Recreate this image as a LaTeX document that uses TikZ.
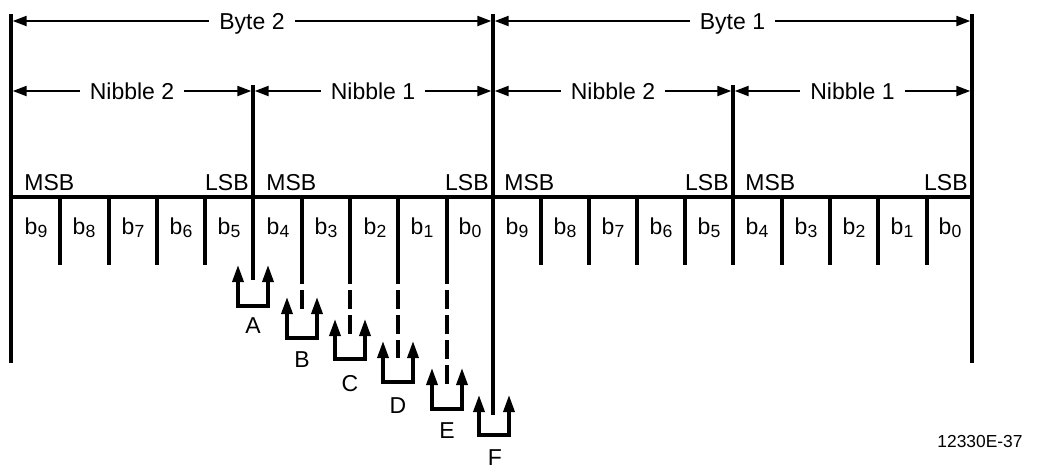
\documentclass[tikz,border=0pt]{standalone}
\usepackage{fontspec}
\setmainfont{Liberation Sans}
\usetikzlibrary{arrows.meta}
\newcommand{\bitname}[1]{b\raisebox{-1.5pt}{\fontsize{8.8}{9}\selectfont #1}}

\begin{document}
\begin{tikzpicture}[x=0.5pt, y=-0.5pt, font=\fontsize{11.5}{13}\selectfont,
  wall/.style={line width=1.7pt},
  dim/.style={{Triangle[length=7pt,width=5pt]}-{Triangle[length=7pt,width=5pt]}, line width=1.1pt, shorten <=0.85pt, shorten >=0.85pt},
  tag/.style={fill=white, inner xsep=5pt, inner ysep=0pt, text height=8pt, text depth=0pt},
  bitlbl/.style={anchor=base, inner sep=0pt},
  msb/.style={anchor=base west, inner sep=0pt},
  lsb/.style={anchor=base east, inner sep=0pt},
  ext/.style={wall, dash pattern=on 9.5pt off 3pt},
  catch/.style={{Triangle[length=8.5pt,width=5.5pt]}-{Triangle[length=8.5pt,width=5.5pt]}, line width=1.7pt},
  letter/.style={inner sep=0pt, text height=8pt, text depth=0pt}
]
\useasboundingbox (0,0) rectangle (1041,468);

% outer and nibble walls
\coordinate (l0) at (11,14);   \coordinate (l1) at (11,363);
\coordinate (m0) at (493,14);  \coordinate (m1) at (493,415);
\coordinate (r0) at (972,14);  \coordinate (r1) at (972,363);
\coordinate (h2t) at (253,85); \coordinate (h2b) at (253,280);
\coordinate (h1t) at (733,85); \coordinate (h1b) at (733,265);
\coordinate (row0) at (11,197); \coordinate (row1) at (972,197);
\draw[wall] (l0) -- (l1);
\draw[wall] (m0) -- (m1);
\draw[wall] (r0) -- (r1);
\draw[wall] (h2t) -- (h2b);
\draw[wall] (h1t) -- (h1b);
\draw[wall] (row0) -- (row1);

% byte and nibble spans
\coordinate (by0) at (11,21);  \coordinate (by1) at (493,21);  \coordinate (by2) at (972,21);
\coordinate (nb0) at (11,91);  \coordinate (nb1) at (253,91);  \coordinate (nb2) at (493,91);
\coordinate (nb3) at (733,91); \coordinate (nb4) at (972,91);
\draw[dim] (by0) -- node[tag] {Byte 2} (by1);
\draw[dim] (by1) -- node[tag] {Byte 1} (by2);
\draw[dim] (nb0) -- node[tag] {Nibble 2} (nb1);
\draw[dim] (nb1) -- node[tag] {Nibble 1} (nb2);
\draw[dim] (nb2) -- node[tag] {Nibble 2} (nb3);
\draw[dim] (nb3) -- node[tag] {Nibble 1} (nb4);

% MSB / LSB
\node[msb] (msb1) at (24,190) {MSB};
\node[lsb] (lsb1) at (249,190) {LSB};
\node[msb] (msb2) at (266,190) {MSB};
\node[lsb] (lsb2) at (489,190) {LSB};
\node[msb] (msb3) at (504,190) {MSB};
\node[lsb] (lsb3) at (729,190) {LSB};
\node[msb] (msb4) at (745,190) {MSB};
\node[lsb] (lsb4) at (968,190) {LSB};

% bit separators
\draw[wall] (60,197) -- (60,265);
\draw[wall] (109,197) -- (109,265);
\draw[wall] (157,197) -- (157,265);
\draw[wall] (205,197) -- (205,265);
\draw[wall] (302,197) -- (302,265);
\draw[wall] (350,197) -- (350,265);
\draw[wall] (398,197) -- (398,265);
\draw[wall] (447,197) -- (447,265);
\draw[wall] (541,197) -- (541,265);
\draw[wall] (589,197) -- (589,265);
\draw[wall] (637,197) -- (637,265);
\draw[wall] (685,197) -- (685,265);
\draw[wall] (782,197) -- (782,265);
\draw[wall] (830,197) -- (830,265);
\draw[wall] (878,197) -- (878,265);
\draw[wall] (927,197) -- (927,265);

% bit labels, byte 2
\node[bitlbl] (hb9) at (36,234) {\bitname{9}};
\node[bitlbl] (hb8) at (84,234) {\bitname{8}};
\node[bitlbl] (hb7) at (133,234) {\bitname{7}};
\node[bitlbl] (hb6) at (181,234) {\bitname{6}};
\node[bitlbl] (hb5) at (229,234) {\bitname{5}};
\node[bitlbl] (hb4) at (278,234) {\bitname{4}};
\node[bitlbl] (hb3) at (326,234) {\bitname{3}};
\node[bitlbl] (hb2) at (375,234) {\bitname{2}};
\node[bitlbl] (hb1) at (422,234) {\bitname{1}};
\node[bitlbl] (hb0) at (470,234) {\bitname{0}};
% bit labels, byte 1
\node[bitlbl] (lb9) at (517,234) {\bitname{9}};
\node[bitlbl] (lb8) at (565,234) {\bitname{8}};
\node[bitlbl] (lb7) at (613,234) {\bitname{7}};
\node[bitlbl] (lb6) at (661,234) {\bitname{6}};
\node[bitlbl] (lb5) at (709,234) {\bitname{5}};
\node[bitlbl] (lb4) at (757,234) {\bitname{4}};
\node[bitlbl] (lb3) at (806,234) {\bitname{3}};
\node[bitlbl] (lb2) at (854,234) {\bitname{2}};
\node[bitlbl] (lb1) at (902,234) {\bitname{1}};
\node[bitlbl] (lb0) at (950,234) {\bitname{0}};

% dashed extensions
\coordinate (e3t) at (302,265); \coordinate (e3b) at (302,313);
\coordinate (e2t) at (350,265); \coordinate (e2b) at (350,337);
\coordinate (e1t) at (398,265); \coordinate (e1b) at (398,358);
\coordinate (e0t) at (447,265); \coordinate (e0b) at (447,386);
\draw[ext] (e3t) -- (e3b);
\draw[ext] (e2t) -- (e2b);
\draw[ext] (e1t) -- (e1b);
\draw[ext] (e0t) -- (e0b);

% A to F
\coordinate (A1) at (238,265); \coordinate (A2) at (238,306); \coordinate (A3) at (268,306); \coordinate (A4) at (268,265);
\coordinate (B1) at (287,297); \coordinate (B2) at (287,338); \coordinate (B3) at (317,338); \coordinate (B4) at (317,297);
\coordinate (C1) at (335,319); \coordinate (C2) at (335,359); \coordinate (C3) at (365,359); \coordinate (C4) at (365,319);
\coordinate (D1) at (383,341); \coordinate (D2) at (383,382); \coordinate (D3) at (413,382); \coordinate (D4) at (413,341);
\coordinate (E1) at (432,368); \coordinate (E2) at (432,409); \coordinate (E3) at (462,409); \coordinate (E4) at (462,368);
\coordinate (F1) at (479,395); \coordinate (F2) at (479,435); \coordinate (F3) at (509,435); \coordinate (F4) at (509,395);
\draw[catch] (A1) -- (A2) -- (A3) -- (A4);
\draw[catch] (B1) -- (B2) -- (B3) -- (B4);
\draw[catch] (C1) -- (C2) -- (C3) -- (C4);
\draw[catch] (D1) -- (D2) -- (D3) -- (D4);
\draw[catch] (E1) -- (E2) -- (E3) -- (E4);
\draw[catch] (F1) -- (F2) -- (F3) -- (F4);
\node[letter] (labA) at (253,325) {A};
\node[letter] (labB) at (302,359) {B};
\node[letter] (labC) at (350,383) {C};
\node[letter] (labD) at (398,405) {D};
\node[letter] (labE) at (447,430) {E};
\node[letter] (labF) at (495,457) {F};

\node[font=\fontsize{8.7}{10}\selectfont] (docid) at (980,442) {12330E-37};
\end{tikzpicture}
\end{document}
